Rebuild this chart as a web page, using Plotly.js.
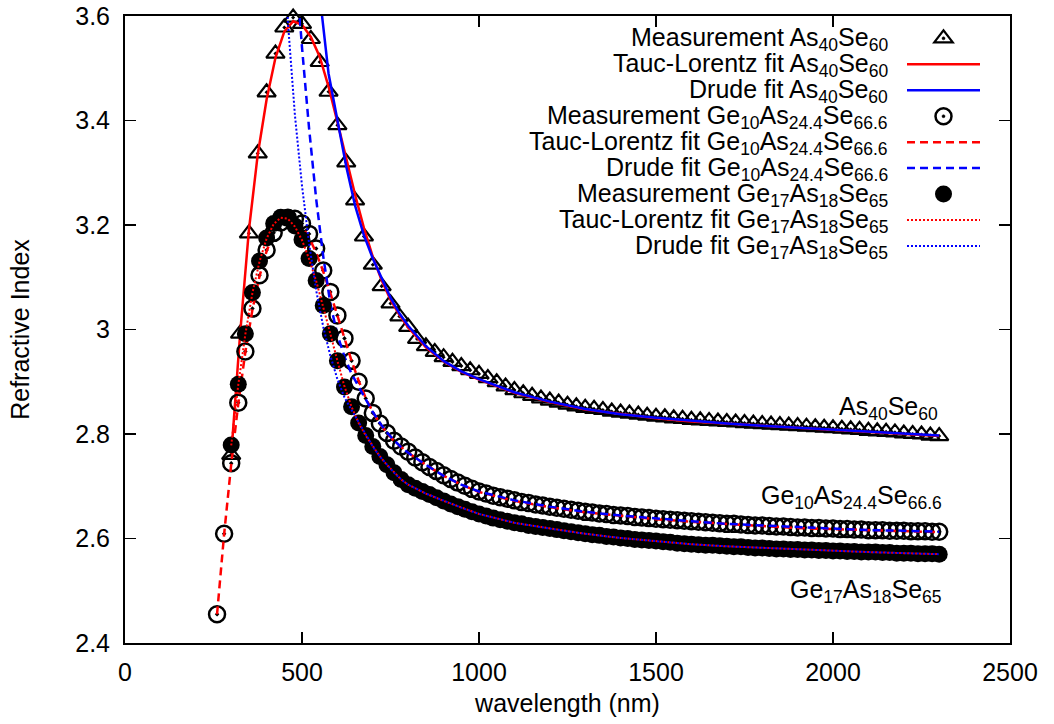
<!DOCTYPE html>
<html><head><meta charset="utf-8">
<script src="https://cdn.plot.ly/plotly-3.0.1.min.js"></script>
<style>html,body{margin:0;padding:0;background:#fff}</style>
</head><body>
<div id="chart" style="width:1054px;height:724px"></div>
<script>
// ---------- DATA ----------
// As40Se60 measurement (triangles), 25 nm grid
const lamA = [300,325,350,375,400,425,450,475,500,525,550,575,600,625,650,675,700,725,750,775,800,825,850,875,900,925,950,975,1000,1025,1050,1075,1100,1125,1150,1175,1200,1225,1250,1275,1300,1325,1350,1375,1400,1425,1450,1475,1500,1525,1550,1575,1600,1625,1650,1675,1700,1725,1750,1775,1800,1825,1850,1875,1900,1925,1950,1975,2000,2025,2050,2075,2100,2125,2150,2175,2200,2225,2250,2275,2300];
const measA = [2.760,2.992,3.184,3.337,3.454,3.528,3.578,3.597,3.585,3.556,3.512,3.455,3.391,3.320,3.247,3.178,3.124,3.083,3.050,3.025,3.005,2.982,2.968,2.957,2.947,2.938,2.930,2.922,2.915,2.907,2.899,2.891,2.884,2.878,2.873,2.868,2.864,2.860,2.856,2.853,2.850,2.848,2.846,2.843,2.841,2.839,2.837,2.835,2.833,2.832,2.830,2.829,2.827,2.826,2.825,2.824,2.823,2.822,2.821,2.820,2.819,2.818,2.817,2.816,2.815,2.814,2.813,2.812,2.811,2.810,2.809,2.808,2.806,2.805,2.804,2.803,2.801,2.800,2.799,2.797,2.796];

// Tauc-Lorentz fit As40Se60
const lamTLA = [300,325,350,375,400,425,450,475,500,525,550,575,600,625,650,675,700,725,750,775,800,850,900,950,1000,1100,1200,1300,1400,1500,1600,1700,1800,1900,2000,2100,2200,2300];
const tlA = [2.758,2.990,3.190,3.335,3.440,3.520,3.570,3.590,3.583,3.560,3.522,3.465,3.397,3.326,3.258,3.194,3.139,3.094,3.057,3.028,3.004,2.966,2.939,2.919,2.904,2.879,2.861,2.847,2.838,2.830,2.824,2.820,2.816,2.812,2.808,2.804,2.800,2.796];

// Drude fit As40Se60
const lamDA = [525,550,575,600,625,650,675,700,725,750,775,800,850,900,950,1000,1100,1200,1300,1400,1500,1600,1700,1800,1900,2000,2100,2200,2300];
const drA = [3.900,3.640,3.490,3.400,3.312,3.237,3.180,3.136,3.097,3.061,3.031,3.007,2.968,2.940,2.920,2.905,2.880,2.862,2.848,2.838,2.831,2.825,2.820,2.816,2.812,2.808,2.804,2.800,2.797];

// Ge10As24.4Se66.6 measurement (open circles), 20 nm grid
const lam10 = [260,280,300,320,340,360,380,400,420,440,460,480,500,520,540,560,580,600,620,640,660,680,700,720,740,760,780,800,820,840,860,880,900,920,940,960,980,1000,1020,1040,1060,1080,1100,1120,1140,1160,1180,1200,1220,1240,1260,1280,1300,1320,1340,1360,1380,1400,1420,1440,1460,1480,1500,1520,1540,1560,1580,1600,1620,1640,1660,1680,1700,1720,1740,1760,1780,1800,1820,1840,1860,1880,1900,1920,1940,1960,1980,2000,2020,2040,2060,2080,2100,2120,2140,2160,2180,2200,2220,2240,2260,2280,2300];
const meas10 = [2.455,2.609,2.744,2.860,2.958,3.040,3.104,3.152,3.185,3.205,3.214,3.212,3.203,3.183,3.155,3.113,3.072,3.027,2.983,2.940,2.900,2.868,2.840,2.820,2.802,2.787,2.776,2.766,2.755,2.746,2.737,2.729,2.721,2.714,2.707,2.701,2.695,2.690,2.686,2.682,2.679,2.676,2.673,2.670,2.668,2.665,2.663,2.661,2.659,2.657,2.655,2.653,2.651,2.650,2.648,2.647,2.645,2.644,2.643,2.641,2.640,2.639,2.638,2.637,2.636,2.635,2.634,2.633,2.632,2.631,2.630,2.629,2.628,2.628,2.627,2.626,2.625,2.625,2.624,2.623,2.623,2.622,2.621,2.621,2.620,2.620,2.619,2.619,2.618,2.618,2.617,2.617,2.616,2.616,2.616,2.615,2.615,2.615,2.614,2.614,2.614,2.613,2.613];

// Tauc-Lorentz fit Ge10As24.4Se66.6
const lamTL10 = [260,280,300,320,340,360,380,400,420,440,460,480,500,520,540,560,580,600,620,640,660,680,700,720,740,760,780,800,850,900,950,1000,1100,1200,1300,1400,1500,1600,1700,1800,1900,2000,2100,2200,2300];
const tl10 = [2.455,2.608,2.742,2.858,2.957,3.038,3.102,3.150,3.184,3.204,3.212,3.209,3.197,3.176,3.147,3.111,3.070,3.026,2.982,2.940,2.902,2.869,2.842,2.820,2.802,2.787,2.775,2.764,2.741,2.720,2.703,2.689,2.672,2.660,2.650,2.643,2.637,2.632,2.628,2.624,2.620,2.618,2.616,2.614,2.612];

// Drude fit Ge10As24.4Se66.6
const lamD10 = [480,500,520,540,560,580,600,620,640,660,680,700,720,740,760,780,800,850,900,950,1000,1100,1200,1300,1400,1500,1600,1700,1800,1900,2000,2100,2200,2300];
const dr10 = [3.720,3.540,3.385,3.250,3.140,3.050,2.990,2.948,2.915,2.890,2.866,2.842,2.821,2.803,2.788,2.775,2.764,2.741,2.720,2.703,2.690,2.673,2.661,2.651,2.644,2.638,2.633,2.628,2.625,2.621,2.619,2.616,2.615,2.613];

// Ge17As18Se65 measurement (filled circles), same 20 nm grid from 300 nm
const lam17 = lam10.slice(2);
const meas17 = [2.779,2.895,2.992,3.071,3.131,3.175,3.203,3.215,3.214,3.198,3.172,3.136,3.094,3.046,2.992,2.940,2.890,2.852,2.821,2.797,2.776,2.757,2.741,2.726,2.713,2.703,2.696,2.690,2.684,2.678,2.672,2.666,2.661,2.656,2.651,2.647,2.643,2.639,2.636,2.633,2.630,2.628,2.625,2.623,2.621,2.619,2.617,2.615,2.613,2.611,2.609,2.607,2.606,2.604,2.603,2.601,2.600,2.598,2.597,2.596,2.595,2.594,2.593,2.591,2.590,2.589,2.588,2.587,2.587,2.586,2.585,2.584,2.584,2.583,2.582,2.582,2.581,2.580,2.580,2.579,2.579,2.578,2.578,2.577,2.577,2.576,2.576,2.575,2.575,2.574,2.574,2.574,2.573,2.573,2.572,2.572,2.572,2.571,2.571,2.571,2.570];

// Tauc-Lorentz fit Ge17As18Se65
const lamTL17 = [300,320,340,360,380,400,420,440,460,480,500,520,540,560,580,600,620,640,660,680,700,720,740,760,780,800,850,900,950,1000,1100,1200,1300,1400,1500,1600,1700,1800,1900,2000,2100,2200,2300];
const tl17 = [2.778,2.894,2.991,3.070,3.130,3.174,3.202,3.214,3.212,3.197,3.171,3.135,3.093,3.045,2.992,2.940,2.891,2.852,2.821,2.797,2.776,2.757,2.741,2.726,2.713,2.703,2.686,2.672,2.659,2.647,2.630,2.619,2.609,2.601,2.595,2.589,2.585,2.582,2.579,2.576,2.574,2.572,2.570];

// Drude fit Ge17As18Se65
const lamD17 = [440,460,480,500,520,540,560,580,600,620,640,660,680,700,720,740,760,780,800,850,900,950,1000,1100,1200,1300,1400,1500,1600,1700,1800,1900,2000,2100,2200,2300];
const dr17 = [3.950,3.590,3.410,3.275,3.165,3.075,3.005,2.950,2.905,2.870,2.846,2.822,2.798,2.776,2.757,2.741,2.726,2.713,2.703,2.686,2.672,2.659,2.647,2.630,2.619,2.609,2.601,2.595,2.589,2.585,2.582,2.579,2.576,2.574,2.572,2.570];

// Labels
const names = [
  'Measurement As<sub>40</sub>Se<sub>60</sub>',
  'Tauc-Lorentz fit As<sub>40</sub>Se<sub>60</sub>',
  'Drude fit As<sub>40</sub>Se<sub>60</sub>',
  'Measurement Ge<sub>10</sub>As<sub>24.4</sub>Se<sub>66.6</sub>',
  'Tauc-Lorentz fit Ge<sub>10</sub>As<sub>24.4</sub>Se<sub>66.6</sub>',
  'Drude fit Ge<sub>10</sub>As<sub>24.4</sub>Se<sub>66.6</sub>',
  'Measurement Ge<sub>17</sub>As<sub>18</sub>Se<sub>65</sub>',
  'Tauc-Lorentz fit Ge<sub>17</sub>As<sub>18</sub>Se<sub>65</sub>',
  'Drude fit Ge<sub>17</sub>As<sub>18</sub>Se<sub>65</sub>'
];
const curveLabels = ['As<sub>40</sub>Se<sub>60</sub>','Ge<sub>10</sub>As<sub>24.4</sub>Se<sub>66.6</sub>','Ge<sub>17</sub>As<sub>18</sub>Se<sub>65</sub>'];
const curveLabelX = [2302, 2314, 2314];
const curveLabelY = [2.853, 2.683, 2.503];
const xTicks = [0,500,1000,1500,2000,2500];
const yTicks = [2.4,2.6,2.8,3.0,3.2,3.4,3.6];

// ---------- STYLE ----------
const RED = '#ff0000', BLUE = '#0000ff';
const FONT = 'Liberation Sans, Arial, Helvetica, sans-serif';
const KEYFONT = 25;

const traces = [
  {x: lamA, y: measA, mode:'markers', cliponaxis:false,
   marker:{symbol:'triangle-up-open-dot', size:16, color:'black', line:{width:2.2, color:'black'}}},
  {x: lamTLA, y: tlA, mode:'lines', line:{color:RED, width:2.5}},
  {x: lamDA, y: drA, mode:'lines', line:{color:BLUE, width:2.5}},
  {x: lam10, y: meas10, mode:'markers', cliponaxis:false,
   marker:{symbol:'circle-open-dot', size:16, color:'black', line:{width:2.5, color:'black'}}},
  {x: lamTL10, y: tl10, mode:'lines', line:{color:RED, width:2.5, dash:'8px,5px'}},
  {x: lamD10, y: dr10, mode:'lines', line:{color:BLUE, width:2.5, dash:'8px,5px'}},
  {x: lam17, y: meas17, mode:'markers', cliponaxis:false,
   marker:{symbol:'circle', size:17, color:'black', line:{width:0}}},
  {x: lamTL17, y: tl17, mode:'lines', line:{color:RED, width:2, dash:'2px,2px'}},
  {x: lamD17, y: dr17, mode:'lines', line:{color:BLUE, width:2, dash:'2px,2px'}}
];
traces.forEach((t,i)=>{ t.type='scatter'; t.name=names[i]; t.showlegend=false; t.hoverinfo='skip'; });

// ---------- custom gnuplot-style key (text right-aligned, sample on the right) ----------
const PL = 125, PR = 1010, PT = 16, PB = 643;
const px2x = p => (p-PL)/(PR-PL);
const py2y = p => (PB-p)/(PB-PT);
const annotations = [], shapes = [];
const row0 = 38.3, rowH = 25.96, textRight = 890, keyL = 907, keyR = 980, keyC = 943.5;
traces.forEach((t,i)=>{
  const cy = row0 + rowH*i;
  annotations.push({xref:'paper', yref:'paper', x:px2x(textRight), y:py2y(cy), xanchor:'right', yanchor:'middle',
    yshift:-1, text:t.name, showarrow:false, font:{family:FONT, size:KEYFONT, color:'black'}});
  if (t.mode === 'lines') {
    shapes.push({type:'line', xref:'paper', yref:'paper', x0:px2x(keyL), x1:px2x(keyR), y0:py2y(cy), y1:py2y(cy),
      line:{color:t.line.color, width:t.line.width, dash:t.line.dash || 'solid'}});
  } else {
    const sym = t.marker.symbol;
    if (sym.indexOf('triangle') === 0) {
      const r = 8, rt = r*2/Math.sqrt(3), r2 = r/2;
      const pts = [[keyC-rt, cy+r2],[keyC+rt, cy+r2],[keyC, cy-r]];
      const path = 'M' + pts.map(p => px2x(p[0]) + ',' + py2y(p[1])).join(' L') + ' Z';
      shapes.push({type:'path', xref:'paper', yref:'paper', path:path, line:{color:'black', width:2.2}});
    } else {
      const rr = sym === 'circle' ? 8.5 : 8;
      shapes.push({type:'circle', xref:'paper', yref:'paper', x0:px2x(keyC-rr), x1:px2x(keyC+rr), y0:py2y(cy-rr), y1:py2y(cy+rr),
        line:{color:'black', width: sym === 'circle' ? 0 : 2.5}, fillcolor: sym === 'circle' ? 'black' : 'rgba(0,0,0,0)'});
    }
    if (sym.indexOf('dot') > 0) {
      const d = 1.5;
      shapes.push({type:'circle', xref:'paper', yref:'paper', x0:px2x(keyC-d), x1:px2x(keyC+d), y0:py2y(cy-d), y1:py2y(cy+d),
        line:{color:'black', width:0.5}, fillcolor:'black'});
    }
  }
});
// curve labels
curveLabels.forEach((txt,i)=>{
  annotations.push({xref:'x', yref:'y', x:curveLabelX[i], y:curveLabelY[i], xanchor:'right', yanchor:'middle',
    yshift:-2, text:txt, showarrow:false, font:{family:FONT, size:KEYFONT, color:'black'}});
});

const axisCommon = {
  showgrid:false, zeroline:false, showline:true, linecolor:'black', linewidth:2,
  ticks:'inside', ticklen:11, tickwidth:1.5, tickcolor:'black', mirror:'ticks',
  tickfont:{family:FONT, size:25, color:'black'}
};
const layout = {
  width:1054, height:724,
  margin:{l:PL, r:1054-PR, t:PT, b:724-PB, pad:0},
  paper_bgcolor:'white', plot_bgcolor:'white',
  font:{family:FONT, size:25, color:'black'},
  showlegend:false,
  xaxis: Object.assign({}, axisCommon, {range:[0,2500], tickmode:'array', tickvals:xTicks,
    ticktext: xTicks.map(String), ticklabelstandoff:6,
    title:{text:'wavelength (nm)', font:{family:FONT, size:25, color:'black'}, standoff:9}}),
  yaxis: Object.assign({}, axisCommon, {range:[2.4,3.6], tickmode:'array', tickvals:yTicks,
    ticktext: yTicks.map(v => String(+v.toFixed(1))), ticklabelstandoff:8,
    title:{text:'Refractive Index', font:{family:FONT, size:25, color:'black'}, standoff:38}}),
  annotations: annotations,
  shapes: shapes
};
Plotly.newPlot('chart', traces, layout, {staticPlot:true, displayModeBar:false});
</script>
</body></html>
